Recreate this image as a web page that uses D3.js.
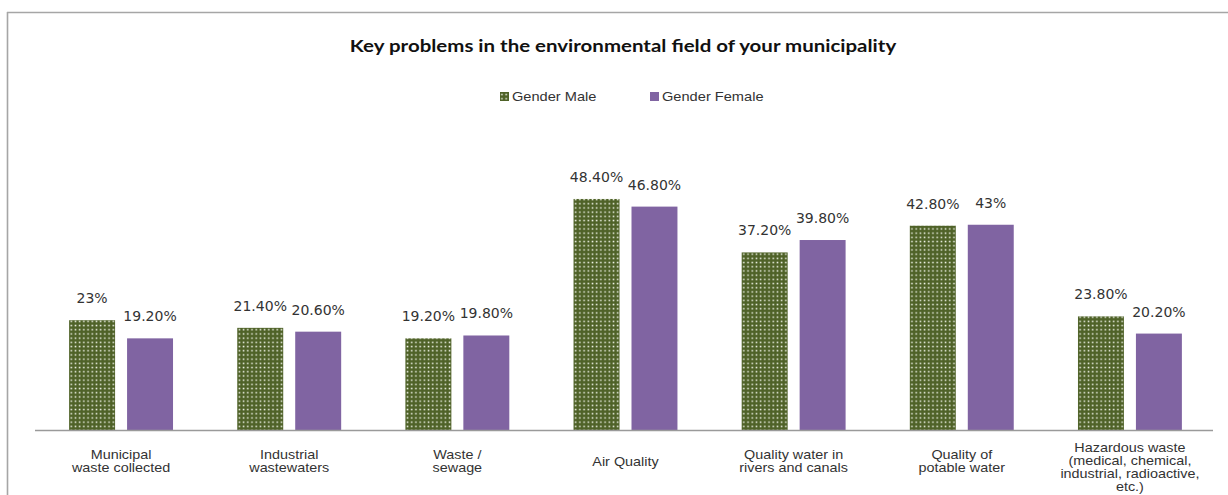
<!DOCTYPE html>
<html><head><meta charset="utf-8">
<script src="https://cdn.jsdelivr.net/npm/d3@7"></script>
<style>
html,body{margin:0;padding:0;background:#fff;}
svg{display:block;}
</style></head>
<body>
<svg id="chart" width="1228" height="495"></svg>
<script>
const categories = [
  ["Municipal","waste collected"],
  ["Industrial","wastewaters"],
  ["Waste  /","sewage"],
  ["Air Quality"],
  ["Quality water in","rivers and canals"],
  ["Quality of","potable water"],
  ["Hazardous waste","(medical, chemical,","industrial, radioactive,","etc.)"]
];
const seriesNames = ["Gender Male","Gender Female"];
const maleValues = [23, 21.4, 19.2, 48.4, 37.2, 42.8, 23.8];
const femaleValues = [19.2, 20.6, 19.8, 46.8, 39.8, 43, 20.2];
const maleLabels = ["23%","21.40%","19.20%","48.40%","37.20%","42.80%","23.80%"];
const femaleLabels = ["19.20%","20.60%","19.80%","46.80%","39.80%","43%","20.20%"];
const title = "Key problems in the environmental field of your municipality";

const svg = d3.select("#chart");
const defs = svg.append("defs");
const pat = defs.append("pattern").attr("id","dots").attr("patternUnits","userSpaceOnUse")
  .attr("width",4.2).attr("height",4.2);
pat.append("rect").attr("width",4.2).attr("height",4.2).attr("fill","#4F6228");
pat.append("rect").attr("x",1.4).attr("y",1.4).attr("width",1.5).attr("height",1.5).attr("fill","#f2f5ea");

const colors = {"Gender Male":"url(#dots)","Gender Female":"#8064A2"};

// frame
svg.append("line").attr("x1",7.5).attr("x2",7.5).attr("y1",12).attr("y2",495).attr("stroke","#a6a6a6").attr("stroke-width",1.6);
svg.append("line").attr("x1",7).attr("x2",1228).attr("y1",12.5).attr("y2",12.5).attr("stroke","#a6a6a6").attr("stroke-width",1.6);

const baseY = 430;
const idx = d3.range(categories.length);
const x0 = d3.scaleBand().domain(idx).range([37,1214]).paddingInner(0.382).paddingOuter(0.191);
const x1 = d3.scaleBand().domain(seriesNames).range([0,x0.bandwidth()]).paddingInner(0.207);
const y = d3.scaleLinear().domain([0,60]).range([baseY, baseY-286.4]);

function stretch(sel, k){
  sel.each(function(){
    const t = d3.select(this);
    const cx = +t.attr("x");
    t.attr("transform",`translate(${cx},0) scale(${k},1) translate(${-cx},0)`);
  });
}

const rows = idx.map(i => ({i, vals:[
  {s:"Gender Male", v:maleValues[i], l:maleLabels[i]},
  {s:"Gender Female", v:femaleValues[i], l:femaleLabels[i]}
]}));

const g = svg.append("g").selectAll("g").data(rows).join("g")
  .attr("transform", d => `translate(${x0(d.i)},0)`);
g.selectAll("rect").data(d => d.vals).join("rect")
  .attr("x", d => x1(d.s)).attr("width", x1.bandwidth())
  .attr("y", d => y(d.v)).attr("height", d => baseY - y(d.v))
  .attr("fill", d => colors[d.s]);
g.selectAll("text").data(d => d.vals).join("text")
  .attr("x", d => x1(d.s) + x1.bandwidth()/2)
  .attr("y", d => y(d.v) - 17)
  .attr("text-anchor","middle")
  .attr("font-family","DejaVu Sans, Verdana, sans-serif")
  .attr("font-size","14px")
  .attr("fill","#333")
  .text(d => d.l);

// axis
svg.append("line").attr("x1",35).attr("x2",1213).attr("y1",baseY+0.5).attr("y2",baseY+0.5)
  .attr("stroke","#9a9a9a").attr("stroke-width",1.6);

// category labels
const cat = svg.append("g");
idx.forEach(i => {
  const lines = categories[i];
  const lh = 13;
  const start = Math.max(448, 462 - (lines.length-1)*lh/2);
  const cx = x0(i) + x0.bandwidth()/2;
  const t = cat.append("text").attr("x",cx).attr("y",start+4)
    .attr("text-anchor","middle").attr("font-family","Liberation Sans, Arial, sans-serif")
    .attr("font-size","12.3px").attr("fill","#333");
  lines.forEach((ln,j) => t.append("tspan").attr("x",cx).attr("y",start+4+j*lh).text(ln));
  stretch(t, 1.17);
});

// title
const tt = svg.append("text").attr("x",623).attr("y",52).attr("text-anchor","middle")
  .attr("font-family","Lato, Open Sans, sans-serif").attr("font-weight","bold")
  .attr("font-size","16.5px").attr("fill","#111").text(title);
stretch(tt, 1.24);

// legend
const legendX = [500, 650];
seriesNames.forEach((s,k) => {
  svg.append("rect").attr("x",legendX[k]).attr("y",92).attr("width",9).attr("height",9)
    .attr("fill",colors[s]);
  const t = svg.append("text").attr("x",legendX[k]+12).attr("y",101)
    .attr("font-family","Liberation Sans, Arial, sans-serif").attr("font-size","12.5px")
    .attr("fill","#333").text(s);
  stretch(t, 1.17);
});
</script>
</body></html>
